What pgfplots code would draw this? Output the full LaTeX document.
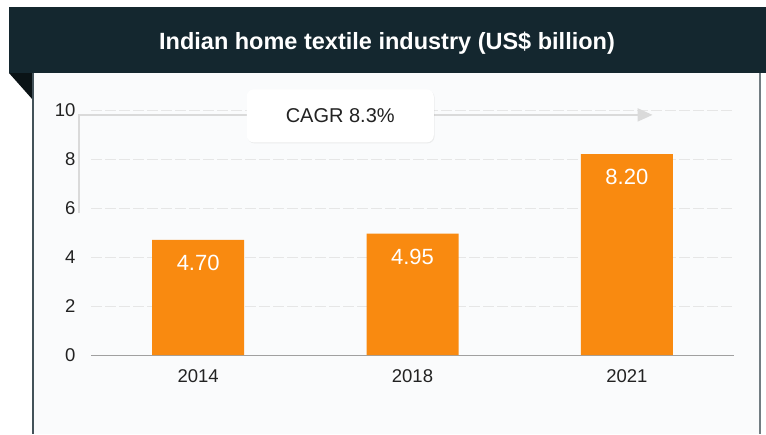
\documentclass[border=0pt]{standalone}
\usepackage{pgfplots}
\pgfplotsset{compat=1.18}
\usepackage{fontspec}
\setmainfont{Liberation Sans}
\usetikzlibrary{arrows.meta,shadows}
\definecolor{hdr}{HTML}{14272F}
\definecolor{fold}{HTML}{0A1316}
\definecolor{panel}{HTML}{FAFBFC}
\definecolor{barc}{HTML}{F98A10}
\definecolor{gridc}{HTML}{E6E6E6}
\definecolor{axc}{HTML}{A0A0A0}
\definecolor{arrc}{HTML}{DADADA}
\definecolor{txt}{HTML}{222222}
\begin{document}
\begin{tikzpicture}
\useasboundingbox (0pt,0pt) rectangle (766pt,-434pt);
\fill[white] (0pt,0pt) rectangle (766pt,-434pt);
\fill[panel] (33pt,-73pt) rectangle (760pt,-434pt);
\fill[hdr] (9pt,-7pt) rectangle (766pt,-73pt);
\fill[fold] (9pt,-73pt) -- (33pt,-73pt) -- (33pt,-100pt) -- cycle;
\draw[color=hdr!80, line width=1.8pt] (33pt,-73pt) -- (33pt,-434pt);
\draw[color=hdr!60, line width=2pt] (760pt,-73pt) -- (760pt,-434pt);
\node[text=white, font=\bfseries\fontsize{23.5}{26}\selectfont] at (387pt,-43pt) {Indian home textile industry (US\$ billion)};
\begin{axis}[
  at={(91pt,-355pt)}, anchor=south west,
  scale only axis, width=643pt, height=245pt,
  xmin=-0.5, xmax=2.5, ymin=0, ymax=10,
  clip=false,
  axis x line=bottom, axis y line=left,
  x axis line style={-, draw=axc, line width=1pt},
  y axis line style={draw=none},
  xtick={0,1,2}, xticklabels={2014,2018,2021},
  xtick style={draw=none},
  extra x ticks={-0.5,0.5,1.5,2.5}, extra x tick labels={},
  extra x tick style={tick style={draw=axc, line width=1pt}, major tick length=9pt, tick align=outside},
  ytick={0,2,4,6,8,10}, ytick style={draw=none},
  ymajorgrids, grid style={color=gridc, line width=0.8pt, dash pattern=on 11pt off 3pt},
  tick label style={font=\fontsize{18.5}{21}\selectfont, text=txt},
  xticklabel style={yshift=-9pt},
  yticklabel style={xshift=-10pt},
  /pgf/number format/assume math mode=true,
]
\draw[color=arrc, line width=2pt, -{Triangle[length=15pt,width=13pt]}] (axis cs:-0.556,5.8) -- (axis cs:-0.556,9.8) -- (axis cs:2.12,9.8);
\node[fill=white, rounded corners=7pt, minimum width=187pt, minimum height=53pt, drop shadow={opacity=0.12, shadow xshift=0.8pt, shadow yshift=-1pt}, text=txt, font=\fontsize{20}{23}\selectfont] at (axis cs:0.663,9.76) {CAGR 8.3\%};
\addplot[ybar, bar width=92pt, fill=barc, draw=none,
  nodes near coords,
  nodes near coords style={/pgf/number format/fixed, /pgf/number format/fixed zerofill, /pgf/number format/precision=2, /pgf/number format/assume math mode=true, anchor=center, yshift=-23pt, text=white, font=\fontsize{22}{25}\selectfont},
] coordinates {(0,4.70) (1,4.95) (2,8.20)};
\end{axis}
\end{tikzpicture}
\end{document}
